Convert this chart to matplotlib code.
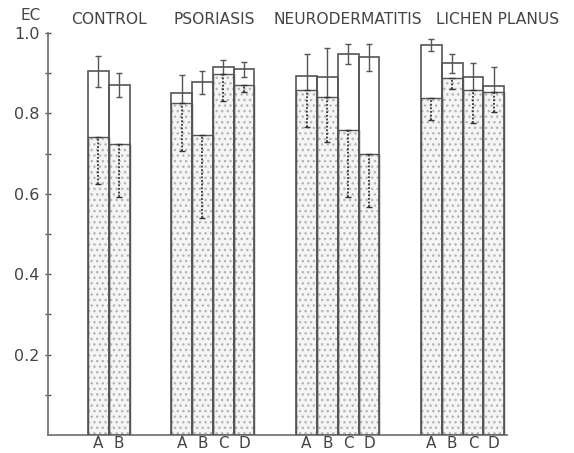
import numpy as np
import matplotlib
matplotlib.use('Agg')
import matplotlib.pyplot as plt

# groups and bar labels
groups = ['CONTROL', 'PSORIASIS', 'NEURODERMATITIS', 'LICHEN PLANUS']
bar_labels = [['A', 'B'], ['A', 'B', 'C', 'D'], ['A', 'B', 'C', 'D'], ['A', 'B', 'C', 'D']]

# total EC (open bar top) and its error
total = [0.905, 0.871, 0.852, 0.877, 0.915, 0.910, 0.893, 0.890, 0.948, 0.940, 0.970, 0.925, 0.891, 0.869]
total_err = [0.038, 0.029, 0.044, 0.028, 0.019, 0.019, 0.055, 0.074, 0.024, 0.034, 0.014, 0.024, 0.034, 0.047]
# stippled part and its (downward) error
stip = [0.741, 0.723, 0.827, 0.746, 0.898, 0.871, 0.858, 0.842, 0.759, 0.698, 0.838, 0.887, 0.858, 0.854]
stip_err = [0.117, 0.130, 0.120, 0.207, 0.066, 0.017, 0.091, 0.112, 0.166, 0.130, 0.054, 0.025, 0.083, 0.050]

# bar positions: one unit per bar, gap of 2 between groups
pos = []
start = 0
for labs in bar_labels:
    pos += [start + i for i in range(len(labs))]
    start += len(labs) + 2
pos = np.array(pos, dtype=float)
ticklabels = [l for labs in bar_labels for l in labs]

line_c = '#555555'
text_c = '#444444'

fig = plt.figure(figsize=(5.74, 4.53), dpi=100)
ax = fig.add_axes([0.0836, 0.040, 0.80, 0.887])

ax.bar(pos, total, width=1.0, align='edge', color='white', edgecolor='none', zorder=1)
ax.errorbar(pos + 0.5, total, yerr=total_err, fmt='none', ecolor=line_c,
            elinewidth=1.0, capsize=2.5, capthick=1.0, zorder=2)
ax.bar(pos, stip, width=1.0, align='edge', color='#f5f5f5', edgecolor='#b5b5b5',
       linewidth=0, hatch='...', zorder=3)
ax.bar(pos, stip, width=1.0, align='edge', color='none', edgecolor=line_c, linewidth=1.0, zorder=4)
ax.bar(pos, total, width=1.0, align='edge', color='none', edgecolor=line_c, linewidth=1.2, zorder=4)
eb = ax.errorbar(pos + 0.5, stip, yerr=[stip_err, np.zeros(len(stip))], fmt='none', ecolor='#333333',
                 elinewidth=1.3, capsize=2.5, capthick=1.0, zorder=5)
eb[2][0].set_linestyle((0, (1, 1)))

ax.set_xlim(-1.92, pos[-1] + 1.14)
ax.set_ylim(0, 1.0)
for s in ['top', 'right']:
    ax.spines[s].set_visible(False)
for s in ['left', 'bottom']:
    ax.spines[s].set_color('#777777')
    ax.spines[s].set_linewidth(1.3)

ax.set_yticks([0.2, 0.4, 0.6, 0.8, 1.0])
ax.set_yticklabels(['0.2', '0.4', '0.6', '0.8', '1.0'])
ax.set_yticks([0.1, 0.3, 0.5, 0.7, 0.9], minor=True)
ax.tick_params(axis='y', which='both', direction='inout', length=4, width=1.0,
               color=line_c, labelcolor=text_c, labelsize=11.5, pad=4)
ax.set_xticks(pos + 0.5)
ax.set_xticklabels(ticklabels)
ax.tick_params(axis='x', length=0, labelcolor=text_c, labelsize=11, pad=1)

title_x = [1.0, 6.06, 12.5, 19.66]
for x, g in zip(title_x, groups):
    ax.text(x, 1.033, g, ha='center', va='center', fontsize=11.2, color=text_c,
            transform=ax.get_xaxis_transform(), clip_on=False)
fig.text(31 / 574, 1 - 15 / 453, 'EC', ha='center', va='center', fontsize=11, color=text_c)

fig.savefig('out.png', dpi=100)
